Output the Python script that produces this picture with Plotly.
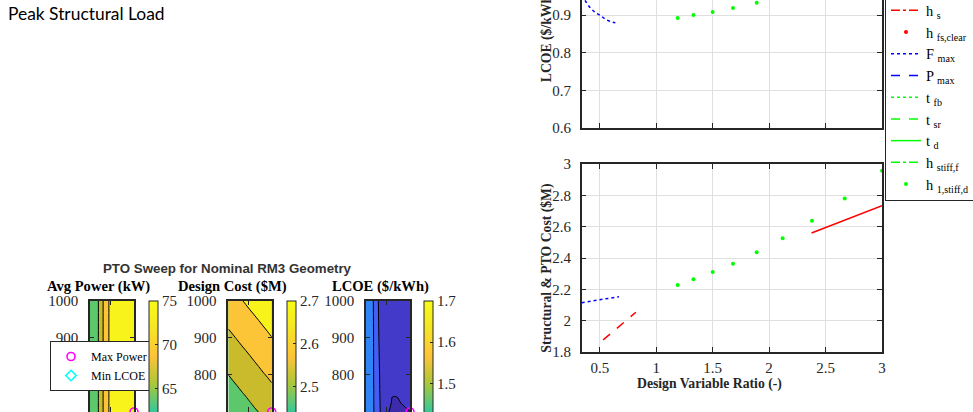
import plotly.graph_objects as go
import numpy as np

# ---------------- Right figure data (design variable ratio sweep) ----------------
fmax_ratio_top = [0.34, 0.367, 0.411, 0.456, 0.50, 0.562, 0.615, 0.66]
fmax_lcoe = [0.952, 0.940, 0.921, 0.908, 0.900, 0.887, 0.881, 0.878]
fmax_ratio_cost = [0.34, 0.50, 0.67]
fmax_cost = [2.115, 2.133, 2.153]
hf1_ratio = [2.376, 3.0]
hf1_cost = [2.56, 2.734]
hf2_ratio = [0.53, 0.82]
hf2_cost = [1.877, 2.054]
h1stiff_ratio = [1.19, 1.33, 1.50, 1.68, 1.89, 2.12, 2.38, 2.67, 3.00]
h1stiff_lcoe = [0.892, 0.900, 0.908, 0.919, 0.933, 0.952, 0.975, 1.002, 1.035]
h1stiff_cost = [2.228, 2.265, 2.310, 2.364, 2.437, 2.526, 2.638, 2.779, 2.957]

# ---------------- Left figure data (PTO sweep contours) ----------------
pto_x = [0.3, 0.45, 0.6, 0.75, 0.9, 1.05, 1.2, 1.35, 1.5, 1.65, 1.8]
wave_y = [650, 700, 725, 750, 800, 900, 1000]

avg_power = [
    [50.0, 60.5, 65.5, 68.05, 70.2, 72.9, 73.8, 74.3, 74.6, 74.8, 74.9],
    [50.0, 60.5, 65.5, 68.05, 70.2, 72.9, 73.8, 74.3, 74.6, 74.8, 75.0],
    [50.0, 60.5, 65.5, 68.05, 70.2, 72.9, 73.8, 74.3, 74.6, 74.8, 74.9],
    [50.0, 60.5, 65.5, 68.05, 70.2, 72.9, 73.8, 74.3, 74.6, 74.8, 74.9],
    [50.0, 60.5, 65.5, 68.05, 70.2, 72.9, 73.8, 74.3, 74.6, 74.8, 74.9],
    [50.0, 60.5, 65.5, 68.05, 70.2, 72.9, 73.8, 74.3, 74.6, 74.8, 74.9],
    [50.0, 60.5, 65.5, 68.05, 70.2, 72.9, 73.8, 74.3, 74.6, 74.8, 74.9],
]
design_cost = [
    [2.329, 2.341, 2.353, 2.364, 2.376, 2.388, 2.399, 2.411, 2.423, 2.434, 2.446],
    [2.369, 2.381, 2.393, 2.404, 2.416, 2.428, 2.440, 2.451, 2.463, 2.475, 2.486],
    [2.390, 2.401, 2.413, 2.425, 2.436, 2.448, 2.460, 2.471, 2.483, 2.495, 2.507],
    [2.410, 2.421, 2.433, 2.445, 2.456, 2.468, 2.480, 2.492, 2.503, 2.515, 2.527],
    [2.450, 2.462, 2.473, 2.485, 2.497, 2.508, 2.520, 2.532, 2.544, 2.555, 2.567],
    [2.531, 2.542, 2.554, 2.566, 2.577, 2.589, 2.601, 2.612, 2.624, 2.636, 2.648],
    [2.611, 2.623, 2.635, 2.646, 2.658, 2.670, 2.681, 2.693, 2.705, 2.716, 2.728],
]
lcoe = [
    [1.367, 1.333, 1.293, 1.260, 1.222, 1.1983, 1.1933, 1.1917, 1.1925, 1.1950, 1.1967],
    [1.367, 1.333, 1.292, 1.258, 1.222, 1.2007, 1.1975, 1.1967, 1.1975, 1.1988, 1.1997],
    [1.367, 1.333, 1.290, 1.257, 1.220, 1.2025, 1.1992, 1.1987, 1.2002, 1.2013, 1.2042],
    [1.367, 1.333, 1.290, 1.255, 1.220, 1.2050, 1.2005, 1.2008, 1.2017, 1.2033, 1.2067],
    [1.367, 1.333, 1.288, 1.253, 1.220, 1.2070, 1.2030, 1.2030, 1.2050, 1.2070, 1.2100],
    [1.367, 1.333, 1.287, 1.247, 1.220, 1.2120, 1.2080, 1.2080, 1.2100, 1.2130, 1.2170],
    [1.367, 1.333, 1.283, 1.242, 1.225, 1.2200, 1.2180, 1.2180, 1.2200, 1.2220, 1.2250],
]
power_levels = [65, 71, 3]
cost_levels = [2.45, 2.65, 0.1]
lcoe_levels = [1.2, 1.3, 0.05]
power_clim = [50, 75]
cost_clim = [2.19, 2.70]
lcoe_clim = [1.17, 1.70]

max_power_x = [1.8]
max_power_y = [700]
min_lcoe_x = [1.35]
min_lcoe_y = [650]

# ---------------- styles ----------------
SERIF = "Liberation Serif"
AX = "#262626"
parula = [
    [0.0, "#3e26a8"], [0.125, "#4852f4"], [0.25, "#2e87f7"], [0.375, "#12b1d6"],
    [0.5, "#37c897"], [0.625, "#abc739"], [0.75, "#fec338"], [0.875, "#f5e524"],
    [1.0, "#f9fb15"],
]
warm_bands = [[0, "#5cc86b"], [1/3, "#c9bb2c"], [2/3, "#fcc537"], [1, "#f7f31b"]]
lcoe_bands = [[0, "#3e2bab"], [1/3, "#433aca"], [2/3, "#435df5"], [1, "#2f85f7"]]

fig = go.Figure()

# ---- right figure traces (legend 1) ----
def add_pair(name, color, dash, mode, top=None, bot=None, group=None):
    marker = dict(color=color, size=4)
    line = dict(color=color, dash=dash, width=1.5)
    clip = mode != "markers"
    if top is not None:
        fig.add_trace(go.Scatter(x=top[0], y=top[1], mode=mode, line=line, marker=marker,
                                 xaxis="x", yaxis="y", showlegend=False, legendgroup=group,
                                 line_shape="spline", cliponaxis=clip, hoverinfo="skip"))
    bx, by = bot if bot is not None else ([None], [None])
    fig.add_trace(go.Scatter(x=bx, y=by, mode=mode, line=line, marker=marker, name=name,
                             xaxis="x2", yaxis="y2", legendgroup=group, legend="legend",
                             cliponaxis=clip, hoverinfo="skip"))

add_pair("h <sub>f,1</sub>", "#ff0000", "solid", "lines", bot=(hf1_ratio, hf1_cost), group="a")
add_pair("h <sub>f,2</sub>", "#ff0000", "dash", "lines", bot=(hf2_ratio, hf2_cost), group="b")
add_pair("h <sub>s</sub>", "#ff0000", "dashdot", "lines", group="c")
add_pair("h <sub>fs,clear</sub>", "#ff0000", "solid", "markers", group="d")
add_pair("F <sub>max</sub>", "#0000ff", "dot", "lines", top=(fmax_ratio_top, fmax_lcoe),
         bot=(fmax_ratio_cost, fmax_cost), group="e")
add_pair("P <sub>max</sub>", "#0000ff", "dash", "lines", group="f")
add_pair("t <sub>fb</sub>", "#00ff00", "dot", "lines", group="g")
add_pair("t <sub>sr</sub>", "#00ff00", "dash", "lines", group="h")
add_pair("t <sub>d</sub>", "#00ff00", "solid", "lines", group="i")
add_pair("h <sub>stiff,f</sub>", "#00ff00", "dashdot", "lines", group="j")
add_pair("h <sub>1,stiff,d</sub>", "#00ff00", "solid", "markers", top=(h1stiff_ratio, h1stiff_lcoe),
         bot=(h1stiff_ratio, h1stiff_cost), group="k")

# ---- left figure: contours ----
panels = [
    (avg_power, power_levels, power_clim, warm_bands, "x3", "y3", 149, 5),
    (design_cost, cost_levels, cost_clim, warm_bands, "x4", "y4", 286.7, 0.1),
    (lcoe, lcoe_levels, lcoe_clim, lcoe_bands, "x5", "y5", 424.3, 0.1),
]
for i, (z, lev, clim, bands, xa, ya, cbx, dt) in enumerate(panels):
    fig.add_trace(go.Contour(x=pto_x, y=wave_y, z=z, xaxis=xa, yaxis=ya, autocontour=False,
                             contours=dict(start=lev[0], end=lev[1], size=lev[2], coloring="fill"),
                             colorscale=bands, line=dict(color="black", width=1),
                             showscale=False, hoverinfo="skip", showlegend=False))
    # continuous colorbar
    fig.add_trace(go.Scatter(x=[pto_x[0], pto_x[-1]], y=[wave_y[-1], wave_y[-1]], mode="markers",
                             xaxis=xa, yaxis=ya, showlegend=False, hoverinfo="skip",
                             marker=dict(color=clim, cmin=clim[0], cmax=clim[1], colorscale=parula,
                                         opacity=0, size=1, showscale=True,
                                         colorbar=dict(x=cbx / 973, xanchor="left", xpad=0,
                                                       y=1 - 300.7 / 412, yanchor="top", ypad=0,
                                                       lenmode="pixels", len=220, thickness=8.5,
                                                       outlinecolor=AX, outlinewidth=1,
                                                       ticks="inside", ticklen=3, tickcolor=AX,
                                                       dtick=dt, tick0=clim[1],
                                                       tickfont=dict(family=SERIF, size=15, color=AX)))))
    fig.add_trace(go.Scatter(x=max_power_x, y=max_power_y, mode="markers", name="Max Power",
                             xaxis=xa, yaxis=ya, legend="legend2", legendgroup="mp",
                             showlegend=(i == 0), cliponaxis=False, hoverinfo="skip",
                             marker=dict(symbol="circle-open", size=8, color="#ff00ff",
                                         line=dict(width=1.6, color="#ff00ff"))))
    fig.add_trace(go.Scatter(x=min_lcoe_x, y=min_lcoe_y, mode="markers", name="Min LCOE",
                             xaxis=xa, yaxis=ya, legend="legend2", legendgroup="ml",
                             showlegend=(i == 0), cliponaxis=False, hoverinfo="skip",
                             marker=dict(symbol="diamond-open", size=8, color="#00ffff",
                                         line=dict(width=1.6, color="#00ffff"))))

# ---------------- layout ----------------
tickfont = dict(family=SERIF, size=15, color=AX)
base = dict(showline=True, linecolor=AX, linewidth=1.5, ticks="inside", ticklen=5,
            tickcolor=AX, tickwidth=1, tickfont=tickfont, zeroline=False)
xd = [581.7 / 973, 882 / 973]

def ydom(top_px, bot_px):
    return [max(0, 1 - bot_px / 412), min(1, 1 - top_px / 412)]

layout_axes = dict(
    xaxis=dict(base, domain=xd, range=[0.34, 3.0], dtick=0.5, tick0=0, anchor="y",
               showticklabels=False, mirror=False, showgrid=True, gridcolor="#dfdfdf"),
    yaxis=dict(base, domain=ydom(0, 128), range=[0.6, 0.94], dtick=0.1, tick0=0, anchor="x",
               mirror="ticks", showgrid=True, gridcolor="#dfdfdf", ticklabelstandoff=6),
    xaxis2=dict(base, domain=xd, range=[0.34, 3.0], dtick=0.5, tick0=0, anchor="y2",
                mirror="ticks", showgrid=True, gridcolor="#dfdfdf", ticklabelstandoff=1),
    yaxis2=dict(base, domain=ydom(164, 352), range=[1.8, 3.0], dtick=0.2, tick0=0, anchor="x2",
                mirror="ticks", showgrid=True, gridcolor="#dfdfdf", ticklabelstandoff=6),
)
for k, (l, r) in zip([3, 4, 5], [(90, 134), (228.3, 271.7), (366, 410)]):
    layout_axes[f"xaxis{k}"] = dict(base, domain=[l / 973, r / 973], range=[0.3, 1.8],
                                    tickvals=[1.0], showticklabels=False, mirror="ticks",
                                    anchor=f"y{k}", showgrid=False)
    layout_axes[f"yaxis{k}"] = dict(base, domain=ydom(300.7, 412), range=[700, 1000], dtick=100,
                                    mirror="ticks", anchor=f"x{k}", showgrid=False,
                                    ticklen=4, ticklabelstandoff=7)

def ann(text, xp, yp, size, family=SERIF, bold=False, color="black", angle=0, xanchor="center"):
    return dict(text=f"<b>{text}</b>" if bold else text, x=xp / 973, y=1 - yp / 412,
                xref="paper", yref="paper", showarrow=False, xanchor=xanchor, yanchor="middle",
                textangle=angle, font=dict(family=family, size=size, color=color))

annotations = [
    ann("Peak Structural Load", 6, 13.5, 17.4, family="Lato", xanchor="left"),
    ann("PTO Sweep for Nominal RM3 Geometry", 227.2, 268.5, 13.3, family="Liberation Sans",
        bold=True, color="#333333"),
    ann("Avg Power (kW)", 98.3, 286.5, 14.6, bold=True),
    ann("Design Cost ($M)", 232.8, 286.5, 14.6, bold=True),
    ann("LCOE ($/kWh)", 380, 286.5, 14.6, bold=True),
    ann("LCOE ($/kWh)", 546.7, 36.5, 13.7, bold=True, color=AX, angle=-90),
    ann("Structural & PTO Cost ($M)", 546.7, 268, 13.7, bold=True, color=AX, angle=-90),
    ann("Design Variable Ratio (-)", 709.7, 384, 13.7, bold=True, color=AX),
]

fig.update_layout(
    width=973, height=412,
    margin=dict(l=0, r=0, t=0, b=0, autoexpand=False),
    paper_bgcolor="white", plot_bgcolor="white",
    showlegend=True,
    legend=dict(x=885 / 973, y=1 - 201 / 412, xanchor="left", yanchor="bottom",
                bgcolor="white", bordercolor=AX, borderwidth=1, tracegroupgap=0,
                font=dict(family=SERIF, size=14.4, color="black")),
    legend2=dict(x=50 / 973, y=1 - 366 / 412, xanchor="left", yanchor="middle",
                 bgcolor="white", bordercolor=AX, borderwidth=1, tracegroupgap=0,
                 font=dict(family=SERIF, size=12, color="black")),
    annotations=annotations,
    **layout_axes,
)

fig.write_html("out.html")
